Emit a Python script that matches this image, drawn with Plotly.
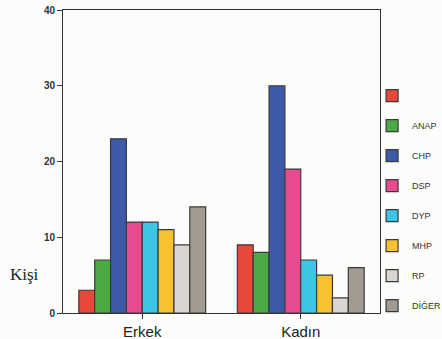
import plotly.graph_objects as go

cinsiyet = ['Erkek', 'Kadın']
partiler = [' ', 'ANAP', 'CHP', 'DSP', 'DYP', 'MHP', 'RP', 'DİĞER']
erkek = [3, 7, 23, 12, 12, 11, 9, 14]
kadin = [9, 8, 30, 19, 7, 5, 2, 6]
renkler = ['#e8483a', '#4caa46', '#3c5aa8', '#e84a92', '#3cc6e6', '#f6c232', '#d9d5d1', '#a19b92']

fig = go.Figure()
for i, p in enumerate(partiler):
    fig.add_trace(go.Bar(
        x=cinsiyet,
        y=[erkek[i], kadin[i]],
        name=p,
        legendgroup=str(i),
        marker=dict(color=renkler[i], line=dict(color='#3a3a3a', width=1.2)),
    ))

fig.update_layout(
    width=442, height=339,
    margin=dict(l=63, r=62, t=10, b=26, autoexpand=False),
    paper_bgcolor='#fcfcfa', plot_bgcolor='#fcfcfa',
    barmode='group', bargap=0.2, bargroupgap=0,
    showlegend=True,
    legend=dict(x=0.975, y=0.765, xanchor='left', yanchor='top',
                traceorder='grouped', tracegroupgap=11,
                font=dict(family='Arial', size=9, color='#333'),
                itemwidth=30,
                bgcolor='rgba(0,0,0,0)'),
    font=dict(family='Arial', color='#222'),
)
fig.update_yaxes(range=[0, 40], tickvals=[0, 10, 20, 30, 40], showgrid=False,
                 showline=True, linecolor='#333', linewidth=1, mirror=True,
                 ticks='outside', ticklen=5, tickcolor='#333',
                 tickfont=dict(size=10, family='Arial', color='#333', weight='bold'),
                 zeroline=False)
fig.update_xaxes(showgrid=False, showline=True, linecolor='#333', linewidth=1, mirror=True,
                 ticks='outside', ticklen=5, tickcolor='#333',
                 tickfont=dict(size=15, family='Arial', color='#222'))
fig.add_annotation(text='Kişi', xref='paper', yref='paper', x=-0.07, y=0.09,
                   xanchor='right', showarrow=False,
                   font=dict(family='Liberation Serif, Times New Roman', size=17, color='#222'))

# sayfanın varsayılan 8px kenar boşluğunu kaldır
fig.write_html('out.html', config={'displayModeBar': False},
               post_script="document.body.style.margin='0';")
